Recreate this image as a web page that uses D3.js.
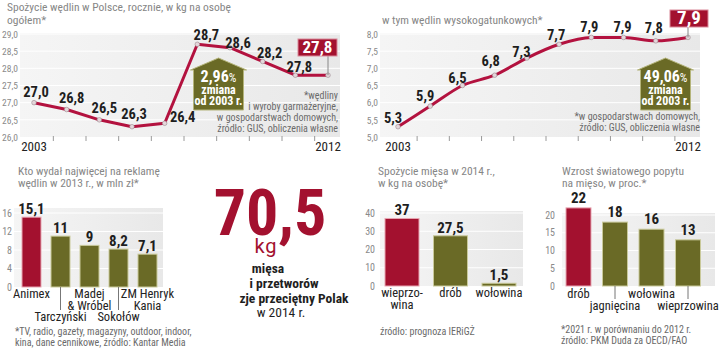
<!DOCTYPE html>
<html><head><meta charset="utf-8">
<script src="https://cdn.jsdelivr.net/npm/d3@7"></script>
<style>
body{margin:0;background:#fff}
svg{display:block}
</style></head><body><svg id="c" width="720" height="348"></svg>
<script>
// ---------- DATA ----------
const years = [2003, 2004, 2005, 2006, 2007, 2008, 2009, 2010, 2011, 2012];
const totalConsumption = [27.0, 26.8, 26.5, 26.3, 26.4, 28.7, 28.6, 28.2, 27.8, 27.8];
const premiumConsumption = [5.3, 5.9, 6.5, 6.8, 7.3, 7.7, 7.9, 7.9, 7.8, 7.9];
const totalTicks = [26.0, 26.5, 27.0, 27.5, 28.0, 28.5, 29.0];
const premiumTicks = [5.0, 5.5, 6.0, 6.5, 7.0, 7.5, 8.0];
const totalChange = "2,96";
const premiumChange = "49,06";

const adBrands = ["Animex", "Tarczyński", "Madej\n& Wróbel", "Sokołów", "ZM Henryk\nKania"];
const adSpend = [15.1, 11, 9, 8.2, 7.1];
const adTicks = [0, 4, 8, 12, 16];

const meatTypes = ["wieprzo-\nwina", "drób", "wołowina"];
const meatConsumption = [37, 27.5, 1.5];
const meatTicks = [0, 10, 20, 30, 40];

const demandTypes = ["drób", "jagnięcina", "wołowina", "wieprzowina"];
const demandGrowth = [22, 18, 16, 13];
const demandTicks = [0, 5, 10, 15, 20];

const headlineValue = "70,5";

// ---------- SETUP ----------
const FONT = "'Liberation Sans Narrow','Roboto Condensed','DejaVu Sans Condensed',sans-serif";
const RED = "#a3112f", OLIVE = "#6a6a26", DARK = "#1e1e1e", GREY = "#868686";
const loc = d3.formatLocale({decimal: ",", thousands: "\u00a0", grouping: [3], currency: ["", " zł"]});
const f1 = loc.format(".1f"), fg = loc.format("~g");
const svg = d3.select("#c").attr("font-family", FONT);
svg.append("rect").attr("width", 720).attr("height", 348).attr("fill", "#fff");
const defs = svg.append("defs");
const grad = defs.append("linearGradient").attr("id", "bg").attr("x1", 0).attr("x2", 1).attr("y1", 0).attr("y2", 0);
grad.append("stop").attr("offset", 0).attr("stop-color", "#f5f5f5");
grad.append("stop").attr("offset", 1).attr("stop-color", "#e8e8e8");

function txt(g, x, y, s, o = {}) {
  const t = g.append("text").attr("x", x).attr("y", y).text(s)
    .attr("font-size", o.size || 12).attr("fill", o.fill || DARK)
    .attr("font-weight", o.weight || "normal").attr("text-anchor", o.anchor || "start");
  if (o.family) t.attr("font-family", o.family);
  if (o.ls) t.attr("letter-spacing", o.ls);
  return t;
}
function lines(g, x, y, arr, lh, o) { arr.forEach((s, i) => txt(g, x, y + i * lh, s, o)); }

// ---------- LINE CHART ----------
function lineChart(o) {
  const g = svg.append("g");
  const x = d3.scalePoint().domain(years).range(o.xRange);
  const y = d3.scaleLinear().domain(d3.extent(o.ticks)).range([137, 34]);
  g.append("rect").attr("x", o.bg[0]).attr("y", y(d3.max(o.ticks)) - 1)
    .attr("width", o.bg[1] - o.bg[0]).attr("height", y(d3.min(o.ticks)) - y(d3.max(o.ticks)) + 1)
    .attr("fill", "url(#bg)");
  g.selectAll(".gr").data(o.ticks.slice(1)).join("line")
    .attr("x1", o.bg[0]).attr("x2", o.bg[1]).attr("y1", d => y(d)).attr("y2", d => y(d))
    .attr("stroke", "#fff").attr("stroke-width", 1);
  const ax = g.append("g").attr("transform", `translate(${o.labelRight},0)`)
    .call(d3.axisLeft(y).tickValues(o.ticks).tickFormat(f1).tickSize(0).tickPadding(0));
  ax.attr("font-family", FONT).attr("font-size", 9.5);
  ax.select(".domain").remove();
  ax.selectAll("text").attr("fill", "#8a8a8a").attr("dy", "0.35em");
  const mids = d3.pairs(years).map(([a, b]) => (x(a) + x(b)) / 2 + 3);
  g.selectAll(".tk").data(mids).join("line")
    .attr("x1", d => d).attr("x2", d => d).attr("y1", 136).attr("y2", 141)
    .attr("stroke", "#9a9a9a").attr("stroke-width", 1);
  [years[0], years[years.length - 1]].forEach(yr =>
    txt(g, x(yr), 151, String(yr), {size: 13, anchor: "middle", fill: "#222"}));
  const line = d3.line().x((d, i) => x(years[i])).y(d => y(d)).curve(o.curve);
  g.append("path").datum(o.vals).attr("d", line).attr("fill", "none")
    .attr("stroke", "#b3123f").attr("stroke-width", 3).attr("stroke-linejoin", "round");
  g.selectAll(".pt").data(o.vals).join("circle")
    .attr("cx", (d, i) => x(years[i])).attr("cy", d => y(d)).attr("r", 2.3)
    .attr("fill", "#e4d6da").attr("stroke", "#9b8a90").attr("stroke-width", 0.6);
  o.vals.forEach((v, i) => {
    if (i === o.vals.length - 1) return;
    const [dx, dy] = o.nudge[i];
    txt(g, x(years[i]) + dx, y(v) + dy, f1(v), {size: 14.5, weight: "bold", anchor: "middle"});
  });
  const last = o.vals[o.vals.length - 1], lx = x(years[years.length - 1]);
  const bx = o.box;
  g.append("line").attr("x1", lx).attr("x2", lx).attr("y1", bx.y + bx.h).attr("y2", y(last))
    .attr("stroke", "#888").attr("stroke-width", 1);
  g.append("rect").attr("x", bx.x).attr("y", bx.y).attr("width", bx.w).attr("height", bx.h)
    .attr("fill", RED).attr("stroke", "#d98a9a").attr("stroke-width", 1);
  txt(g, bx.x + bx.w / 2, bx.y + bx.h - 3, f1(last), {size: bx.fs, weight: "bold", anchor: "middle", fill: "#fff"});
  const c = o.house, t = 58, e = 70, b = 110, hw = 25, ew = 28;
  g.append("path").attr("d", `M${c},${t}L${c + ew},${e}L${c + hw},${e}L${c + hw},${b}L${c - hw},${b}L${c - hw},${e}L${c - ew},${e}Z`)
    .attr("fill", OLIVE).attr("stroke", "#b4b47a").attr("stroke-width", 1);
  const pt = txt(g, c, 82, o.change, {size: 16, weight: "bold", anchor: "middle", fill: "#fff"});
  pt.append("tspan").text("%").attr("font-size", 12).attr("font-weight", "normal");
  txt(g, c, 93.5, "zmiana", {size: 12, weight: "bold", anchor: "middle", fill: "#fff"});
  txt(g, c, 104.5, "od 2003 r.", {size: 12, weight: "bold", anchor: "middle", fill: "#fff"});
  lines(g, o.noteX, o.noteY, o.note, 11, {size: 10, anchor: "end", fill: "#6a6a6a"});
}

lineChart({
  vals: totalConsumption, ticks: totalTicks, xRange: [34, 328], bg: [20, 340], labelRight: 18,
  curve: d3.curveLinear,
  nudge: [[2, -6], [5, -6.5], [5, -6.7], [2, -7.5], [18, -1], [9, -4], [8, 0], [7, -3.4], [4, -3.3]],
  box: {x: 298, y: 39, w: 39, h: 17, fs: 17}, house: 218.5, change: totalChange,
  note: ["*wędliny", "i wyroby garmażeryjne,", "w gospodarstwach domowych,", "źródło: GUS, obliczenia własne"],
  noteX: 338, noteY: 99
});
lineChart({
  vals: premiumConsumption, ticks: premiumTicks, xRange: [398, 688], bg: [380, 700], labelRight: 378,
  curve: d3.curveMonotoneX,
  nudge: [[-5, -4], [-5, -5], [-5, -2.5], [-4, -9], [-5.5, -1], [-3, -4], [-2, -5], [-1, -5], [-2, -8]],
  box: {x: 670, y: 10, w: 38, h: 17, fs: 19}, house: 665.5, change: premiumChange,
  note: ["*w gospodarstwach domowych,", "źródło: GUS, obliczenia własne"],
  noteX: 700, noteY: 120
});
txt(svg, 7, 11, "Spożycie wędlin w Polsce, rocznie, w kg na osobę", {size: 11.5, fill: GREY});
txt(svg, 7, 24, "ogółem*", {size: 11.5, fill: GREY});
txt(svg, 382, 24, "w tym wędlin wysokogatunkowych*", {size: 11.5, fill: GREY});

// ---------- BAR CHARTS ----------
function barChart(o) {
  const g = svg.append("g");
  const x = d3.scaleBand().domain(o.cats).range(o.xRange).paddingInner(o.pad).paddingOuter(o.pad / 2);
  const y = d3.scaleLinear().domain(d3.extent(o.ticks)).range([o.y0, o.y1]);
  g.append("rect").attr("x", o.bg[0]).attr("y", o.bgTop).attr("width", o.bg[1] - o.bg[0])
    .attr("height", o.y0 - o.bgTop).attr("fill", "url(#bg)");
  g.selectAll(".gr").data(o.ticks.slice(1)).join("line")
    .attr("x1", o.bg[0]).attr("x2", o.bg[1]).attr("y1", d => y(d)).attr("y2", d => y(d))
    .attr("stroke", "#fff");
  const ax = g.append("g").attr("transform", `translate(${o.labelRight},0)`)
    .call(d3.axisLeft(y).tickValues(o.ticks).tickFormat(fg).tickSize(0).tickPadding(0));
  ax.attr("font-family", FONT).attr("font-size", 10);
  ax.select(".domain").remove();
  ax.selectAll("text").attr("fill", "#8a8a8a");
  g.selectAll(".bar").data(o.vals).join("rect")
    .attr("x", (d, i) => x(o.cats[i])).attr("y", d => y(d))
    .attr("width", x.bandwidth()).attr("height", d => o.y0 - y(d))
    .attr("fill", (d, i) => i === 0 ? RED : OLIVE)
    .attr("stroke", (d, i) => i === 0 ? "#e7a5b2" : "#c9c99a").attr("stroke-width", 1);
  o.vals.forEach((v, i) => {
    const cx = x(o.cats[i]) + x.bandwidth() / 2;
    txt(g, cx, y(v) + o.valDy, fg(v), {size: 15, weight: "bold", anchor: "middle"});
    const lev = o.levels[i];
    const by = lev ? o.lab2 : o.lab1;
    if (lev) g.append("line").attr("x1", cx).attr("x2", cx).attr("y1", o.y0).attr("y2", by - 11)
      .attr("stroke", "#777").attr("stroke-width", 1);
    lines(g, cx, by, o.cats[i].split("\n"), 11.5, {size: 12.5, anchor: "middle", fill: "#222"});
  });
}

barChart({cats: adBrands, vals: adSpend, ticks: adTicks, xRange: [17, 162], pad: 10 / 29,
  y0: 287, y1: 213, bg: [14, 163], bgTop: 208, labelRight: 12, valDy: -3,
  levels: [0, 1, 0, 1, 0], lab1: 298, lab2: 321});
txt(svg, 18, 175, "Kto wydał najwięcej na reklamę", {size: 11.5, fill: GREY});
txt(svg, 18, 187, "wędlin w 2013 r., w mln zł*", {size: 11.5, fill: GREY});
lines(svg, 15, 335, ["*TV, radio, gazety, magazyny, outdoor, indoor,", "kina, dane cennikowe, źródło: Kantar Media"], 10.5, {size: 10, fill: "#6a6a6a"});

barChart({cats: meatTypes, vals: meatConsumption, ticks: meatTicks, xRange: [377.75, 523.25], pad: 14.5 / 48.5,
  y0: 286, y1: 213, bg: [380, 523], bgTop: 211, labelRight: 375, valDy: -3,
  levels: [0, 0, 0], lab1: 297, lab2: 321});
txt(svg, 378, 175, "Spożycie mięsa w 2014 r.,", {size: 11.5, fill: GREY});
txt(svg, 378, 187, "w kg na osobę*", {size: 11.5, fill: GREY});
txt(svg, 380, 335, "źródło: prognoza IERiGŻ", {size: 10, fill: "#6a6a6a"});

barChart({cats: demandTypes, vals: demandGrowth, ticks: demandTicks, xRange: [560.25, 706.25], pad: 11.5 / 36.5,
  y0: 286, y1: 215, bg: [562, 715], bgTop: 213, labelRight: 555, valDy: -5,
  levels: [0, 1, 0, 1], lab1: 298, lab2: 310});
txt(svg, 562, 175, "Wzrost światowego popytu", {size: 11.5, fill: GREY});
txt(svg, 562, 187, "na mięso, w proc.*", {size: 11.5, fill: GREY});
lines(svg, 561, 333, ["*2021 r. w porównaniu do 2012 r.", "źródło: PKM Duda za OECD/FAO"], 10.5, {size: 10, fill: "#6a6a6a"});

// ---------- HEADLINE ----------
txt(svg, 270, 235, headlineValue, {size: 64, weight: "bold", fill: RED, anchor: "middle"});
txt(svg, 266, 253, "kg", {size: 20, fill: RED, anchor: "middle", family: "Roboto, sans-serif", ls: 1});
txt(svg, 268, 273, "mięsa", {size: 13.5, weight: "bold", anchor: "middle"});
txt(svg, 284, 288, "i przetworów", {size: 13.5, weight: "bold", anchor: "middle"});
txt(svg, 294, 303, "zje przeciętny Polak", {size: 13.5, weight: "bold", anchor: "middle"});
txt(svg, 281, 317, "w 2014 r.", {size: 13.5, anchor: "middle"});
</script></body></html>
